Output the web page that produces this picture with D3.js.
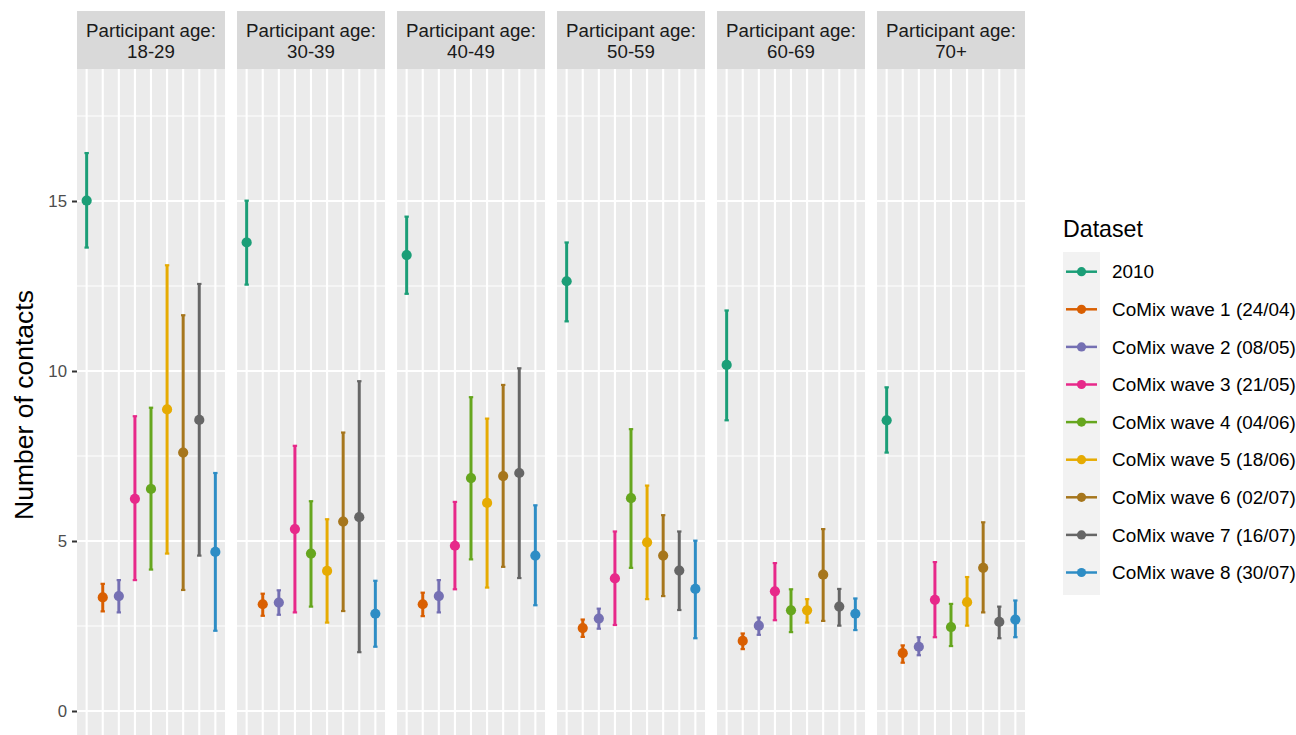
<!DOCTYPE html>
<html>
<head>
<meta charset="utf-8">
<script src="https://cdn.jsdelivr.net/npm/d3@7"></script>
<style>
  body { margin: 0; background: #ffffff; }
  text { font-family: "Liberation Sans", Arial, Helvetica, sans-serif; }
</style>
</head>
<body>
<div id="contacts_plot"></div>
<script>
//
// Contacts by participant age, 2010 vs CoMix waves
//

var age_groups = ["18-29", "30-39", "40-49", "50-59", "60-69", "70+"];

var datasets = ["2010", "CoMix wave 1 (24/04)", "CoMix wave 2 (08/05)", "CoMix wave 3 (21/05)",
  "CoMix wave 4 (04/06)", "CoMix wave 5 (18/06)", "CoMix wave 6 (02/07)",
  "CoMix wave 7 (16/07)", "CoMix wave 8 (30/07)"];

var colours = ["#1B9E77", "#D95F02", "#7570B3", "#E7298A", "#66A61E",
  "#E6AB02", "#A6761D", "#666666", "#2E8DC5"];

var y_ticks = [0, 5, 10, 15];
var y_minor = [2.5, 7.5, 12.5, 17.5];

// one row per age group, one value per dataset
var estimate = [
  [15.01, 3.34, 3.38, 6.24, 6.53, 8.87, 7.60, 8.56, 4.68],
  [13.78, 3.14, 3.19, 5.35, 4.63, 4.12, 5.57, 5.70, 2.86],
  [13.41, 3.14, 3.38, 4.86, 6.85, 6.12, 6.91, 7.00, 4.57],
  [12.64, 2.44, 2.72, 3.90, 6.26, 4.96, 4.57, 4.13, 3.59],
  [10.18, 2.06, 2.51, 3.52, 2.96, 2.96, 4.01, 3.07, 2.86],
  [8.55, 1.70, 1.89, 3.27, 2.47, 3.20, 4.21, 2.62, 2.69]
];

var lower_ci = [
  [13.63, 2.93, 2.90, 3.85, 4.16, 4.63, 3.56, 4.57, 2.36],
  [12.54, 2.80, 2.83, 2.90, 3.07, 2.60, 2.94, 1.73, 1.89],
  [12.27, 2.79, 2.90, 3.58, 4.46, 3.63, 4.24, 3.91, 3.11],
  [11.46, 2.18, 2.42, 2.53, 4.21, 3.29, 3.38, 2.97, 2.14],
  [8.55, 1.82, 2.24, 2.67, 2.32, 2.60, 2.65, 2.51, 2.38],
  [7.60, 1.42, 1.64, 2.17, 1.91, 2.51, 2.90, 2.14, 2.17]
];

var upper_ci = [
  [16.41, 3.74, 3.85, 8.67, 8.92, 13.11, 11.64, 12.56, 7.00],
  [15.01, 3.45, 3.55, 7.80, 6.17, 5.64, 8.19, 9.70, 3.83],
  [14.54, 3.48, 3.85, 6.15, 9.23, 8.60, 9.59, 10.08, 6.05],
  [13.78, 2.69, 3.01, 5.28, 8.29, 6.63, 5.76, 5.28, 5.01],
  [11.78, 2.28, 2.75, 4.35, 3.58, 3.29, 5.35, 3.59, 3.31],
  [9.52, 1.93, 2.17, 4.38, 3.15, 3.94, 5.55, 3.07, 3.25]
];


function ContactsChart() {
  var total_width = 1296,
      total_height = 735;

  var panel_top = 69, panel_bottom = 745,
      strip_top = 11;

  function my(selection) {
    var svg = selection.append("svg")
        .attr("width", total_width)
        .attr("height", total_height)
        .style("display", "block");

    // facets
    var facet = d3.scaleBand()
      .domain(age_groups)
      .range([77, 1025])
      .paddingInner(0.075);

    // x inside a facet (discrete, ggplot-like expansion)
    var x = d3.scalePoint()
      .domain(datasets)
      .range([0, facet.bandwidth()])
      .padding(0.6);

    var y = d3.scaleLinear()
      .domain([0, 15])
      .range([711, 201]);

    var colour = d3.scaleOrdinal()
      .domain(datasets)
      .range(colours);

    age_groups.forEach(function(age, gi) {
      var g = svg.append("g")
          .attr("transform", "translate(" + facet(age) + ",0)");
      var w = facet.bandwidth();

      // panel background
      g.append("rect")
          .attr("x", 0)
          .attr("y", panel_top)
          .attr("width", w)
          .attr("height", panel_bottom - panel_top)
          .attr("fill", "#EBEBEB");

      // grid
      g.selectAll(".minor")
        .data(y_minor)
        .enter()
        .append("line")
          .attr("x1", 0).attr("x2", w)
          .attr("y1", d => y(d)).attr("y2", d => y(d))
          .attr("stroke", "#ffffff")
          .attr("stroke-width", 1.1);

      g.selectAll(".major")
        .data(y_ticks)
        .enter()
        .append("line")
          .attr("x1", 0).attr("x2", w)
          .attr("y1", d => y(d)).attr("y2", d => y(d))
          .attr("stroke", "#ffffff")
          .attr("stroke-width", 2.1);

      g.selectAll(".vgrid")
        .data(datasets)
        .enter()
        .append("line")
          .attr("x1", d => x(d)).attr("x2", d => x(d))
          .attr("y1", panel_top).attr("y2", panel_bottom)
          .attr("stroke", "#ffffff")
          .attr("stroke-width", 2.1);

      // strip
      g.append("rect")
          .attr("x", 0)
          .attr("y", strip_top)
          .attr("width", w)
          .attr("height", panel_top - strip_top)
          .attr("fill", "#D9D9D9");

      var strip_text = g.append("text")
          .attr("text-anchor", "middle")
          .attr("fill", "#1A1A1A")
          .style("font-size", "18.7px");
      strip_text.append("tspan")
          .attr("x", w / 2)
          .attr("y", 37)
          .text("Participant age:");
      strip_text.append("tspan")
          .attr("x", w / 2)
          .attr("y", 58)
          .text(age);

      // error bars + points
      var rows = datasets.map(function(d, i) {
        return {
          dataset: d,
          est: estimate[gi][i],
          lo: lower_ci[gi][i],
          hi: upper_ci[gi][i],
        };
      });

      var bars = g.selectAll(".bar")
        .data(rows)
        .enter()
        .append("g");

      bars.append("line")
          .attr("x1", d => x(d.dataset)).attr("x2", d => x(d.dataset))
          .attr("y1", d => y(d.lo)).attr("y2", d => y(d.hi))
          .attr("stroke", d => colour(d.dataset))
          .attr("stroke-width", 3);

      [["lo"], ["hi"]].forEach(function(k) {
        bars.append("line")
            .attr("x1", d => x(d.dataset) - 2.2).attr("x2", d => x(d.dataset) + 2.2)
            .attr("y1", d => y(d[k[0]])).attr("y2", d => y(d[k[0]]))
            .attr("stroke", d => colour(d.dataset))
            .attr("stroke-width", 2.2);
      });

      bars.append("circle")
          .attr("cx", d => x(d.dataset))
          .attr("cy", d => y(d.est))
          .attr("r", 5.1)
          .attr("fill", d => colour(d.dataset));
    });

    // y axis on the first facet only
    var yAxis = svg.append("g")
        .attr("transform", "translate(" + facet(age_groups[0]) + ",0)")
        .call(d3.axisLeft(y).tickValues(y_ticks).tickSize(5).tickPadding(5));
    yAxis.select(".domain").remove();
    yAxis.selectAll(".tick line")
        .attr("stroke", "#333333")
        .attr("stroke-width", 2);
    yAxis.selectAll(".tick text")
        .attr("fill", "#4D4D4D")
        .style("font-size", "16.8px")
        .style("font-family", "'Liberation Sans', Arial, sans-serif");

    svg.append("text")
        .attr("transform", "translate(33,405) rotate(-90)")
        .attr("text-anchor", "middle")
        .attr("fill", "#000000")
        .style("font-size", "26.5px")
        .text("Number of contacts");

    // Legend
    var legend_y = d3.scalePoint()
      .domain(datasets)
      .range([271.7, 572.5]);

    svg.append("text")
        .attr("x", 1063)
        .attr("y", 237)
        .attr("fill", "#000000")
        .style("font-size", "23.2px")
        .text("Dataset");

    svg.append("rect")
        .attr("x", 1063)
        .attr("y", 252)
        .attr("width", 37)
        .attr("height", 343)
        .attr("fill", "#F2F2F2");

    var keys = svg.selectAll(".key")
      .data(datasets)
      .enter()
      .append("g")
        .attr("transform", d => "translate(0," + legend_y(d) + ")");

    keys.append("line")
        .attr("x1", 1066).attr("x2", 1097)
        .attr("stroke", d => colour(d))
        .attr("stroke-width", 2.5);

    keys.append("circle")
        .attr("cx", 1081.5)
        .attr("r", 4.6)
        .attr("fill", d => colour(d));

    keys.append("text")
        .attr("x", 1112)
        .attr("dy", "0.35em")
        .attr("fill", "#000000")
        .style("font-size", "18.9px")
        .text(d => d);
  }

  return my;
}

var contacts_plot = d3.select("#contacts_plot");
var chart = ContactsChart();
chart(contacts_plot);
</script>
</body>
</html>
